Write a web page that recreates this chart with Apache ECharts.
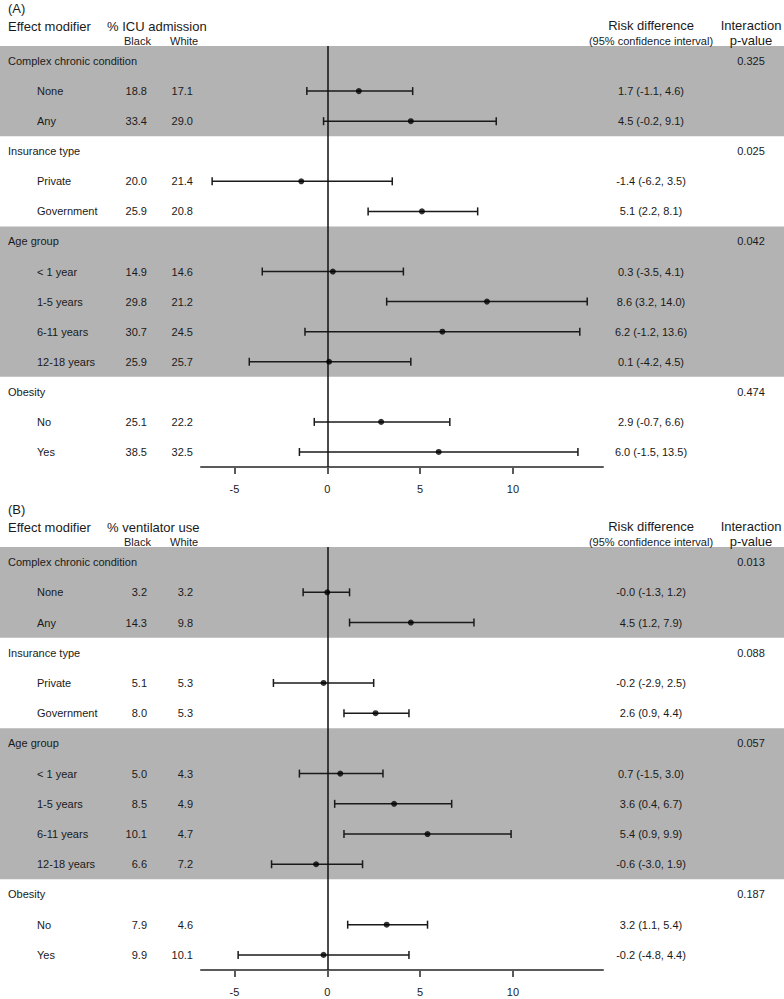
<!DOCTYPE html>
<html lang="en">
<head>
    <meta charset="UTF-8">
    <title>Effect modification forest plot</title>
    <script type="text/javascript" src="https://cdn.jsdelivr.net/npm/echarts@6/dist/echarts.min.js"></script>
    <style>
        html, body { margin: 0; padding: 0; background: #fff; }
    </style>
</head>
<body>
    <div id="main" style="width: 784px; height: 999px;"></div>

    <script type="text/javascript">
        // effect modifiers and their levels
        var groups = ['Complex chronic condition', 'Insurance type', 'Age group', 'Obesity'];
        var levels = ['None', 'Any', 'Private', 'Government', '< 1 year', '1-5 years', '6-11 years', '12-18 years', 'No', 'Yes'];
        var levelGroup = [0, 0, 1, 1, 2, 2, 2, 2, 3, 3];

        // (A) ICU admission
        var icuBlack = [18.8, 33.4, 20.0, 25.9, 14.9, 29.8, 30.7, 25.9, 25.1, 38.5];
        var icuWhite = [17.1, 29.0, 21.4, 20.8, 14.6, 21.2, 24.5, 25.7, 22.2, 32.5];
        var icuRd = [1.7, 4.5, -1.4, 5.1, 0.3, 8.6, 6.2, 0.1, 2.9, 6.0];
        var icuLo = [-1.1, -0.2, -6.2, 2.2, -3.5, 3.2, -1.2, -4.2, -0.7, -1.5];
        var icuHi = [4.6, 9.1, 3.5, 8.1, 4.1, 14.0, 13.6, 4.5, 6.6, 13.5];
        var icuP = ['0.325', '0.025', '0.042', '0.474'];

        // (B) ventilator use
        var ventBlack = [3.2, 14.3, 5.1, 8.0, 5.0, 8.5, 10.1, 6.6, 7.9, 9.9];
        var ventWhite = [3.2, 9.8, 5.3, 5.3, 4.3, 4.9, 4.7, 7.2, 4.6, 10.1];
        var ventRd = [-0.0, 4.5, -0.2, 2.6, 0.7, 3.6, 5.4, -0.6, 3.2, -0.2];
        var ventLo = [-1.3, 1.2, -2.9, 0.9, -1.5, 0.4, 0.9, -3.0, 1.1, -4.8];
        var ventHi = [1.2, 7.9, 2.5, 4.4, 3.0, 6.7, 9.9, 1.9, 5.4, 4.4];
        var ventP = ['0.013', '0.088', '0.057', '0.187'];

        var axisTicks = [-5, 0, 5, 10];

        var FONT = "'Liberation Sans', Arial, sans-serif";
        var INK = '#1a1a1a';
        var BAND = '#b3b3b3';
        var NROWS = groups.length + levels.length;

        function fmt(v) {
            var s = Math.abs(v).toFixed(1);
            return (v < 0 || Object.is(v, -0)) ? '-' + s : s;
        }

        // lay out rows: group header then its levels
        function buildRows(black, white, rd, lo, hi, p) {
            var out = { text: [], black: [], white: [], rd: [], p: [], bars: [], dots: [], groupRows: [] };
            var r = 0;
            groups.forEach(function (g, gi) {
                out.groupRows.push(r);
                out.text.push({ r: r, t: g, indent: false });
                out.p.push({ r: r, t: p[gi] });
                r++;
                levels.forEach(function (lv, li) {
                    if (levelGroup[li] !== gi) return;
                    out.text.push({ r: r, t: lv, indent: true });
                    out.black.push({ r: r, t: black[li].toFixed(1) });
                    out.white.push({ r: r, t: white[li].toFixed(1) });
                    out.rd.push({ r: r, t: fmt(rd[li]) + ' (' + fmt(lo[li]) + ', ' + fmt(hi[li]) + ')' });
                    out.bars.push([lo[li], hi[li], r]);
                    out.dots.push([rd[li], r]);
                    r++;
                });
            });
            return out;
        }

        var panels = [
            { rows: buildRows(icuBlack, icuWhite, icuRd, icuLo, icuHi, icuP), top: 46, height: 421, dy: 0, label: '(A)', outcome: '% ICU admission' },
            { rows: buildRows(ventBlack, ventWhite, ventRd, ventLo, ventHi, ventP), top: 547, height: 423, dy: 501, label: '(B)', outcome: '% ventilator use' }
        ];

        var grids = [], xAxes = [], yAxes = [], series = [], graphics = [];

        function textCol(axisIdx, items, colX, align, size) {
            return {
                type: 'custom',
                xAxisIndex: axisIdx,
                yAxisIndex: axisIdx,
                silent: true,
                z: 3,
                data: items.map(function (d) { return [colX, d.r]; }),
                renderItem: function (params, api) {
                    var pt = api.coord([api.value(0), api.value(1)]);
                    return {
                        type: 'text',
                        x: pt[0],
                        y: pt[1],
                        style: {
                            text: items[params.dataIndex].t,
                            fill: INK,
                            fontSize: size || 11,
                            fontFamily: FONT,
                            align: align,
                            verticalAlign: 'middle'
                        }
                    };
                }
            };
        }

        panels.forEach(function (pn, k) {
            var tIdx = k * 2, fIdx = k * 2 + 1;
            // table grid: full width, used for bands and text columns
            grids.push({ left: 0, width: 784, top: pn.top, height: pn.height });
            // forest grid
            grids.push({ left: 201, width: 402, top: pn.top, height: pn.height });

            xAxes.push({ gridIndex: tIdx, type: 'value', min: 0, max: 784, show: false });
            yAxes.push({ gridIndex: tIdx, type: 'value', min: -0.5, max: NROWS - 0.5, inverse: true, show: false });

            xAxes.push({
                gridIndex: fIdx, type: 'value', min: -6.8, max: 14.85,
                position: 'bottom',
                splitLine: { show: false },
                axisLine: { show: true, onZero: false, lineStyle: { color: '#5a5a5a', width: 2 } },
                axisTick: { show: true, customValues: axisTicks, length: 7, lineStyle: { color: '#5a5a5a', width: 2 } },
                axisLabel: { customValues: axisTicks, color: INK, fontSize: 11, fontFamily: FONT, margin: 16 }
            });
            yAxes.push({ gridIndex: fIdx, type: 'value', min: -0.5, max: NROWS - 0.5, inverse: true, show: false });

            var rows = pn.rows;
            var bandAreas = [];
            [0, 2].forEach(function (gi) {
                var start = rows.groupRows[gi];
                var end = gi + 1 < rows.groupRows.length ? rows.groupRows[gi + 1] : NROWS;
                bandAreas.push([{ yAxis: start - 0.5 }, { yAxis: end - 0.5 }]);
            });

            // group / level labels
            var grp = rows.text.filter(function (d) { return !d.indent; });
            var lev = rows.text.filter(function (d) { return d.indent; });
            var s0 = textCol(tIdx, grp, 8, 'left');
            s0.markArea = { silent: true, z: 0, itemStyle: { color: BAND, opacity: 1 }, data: bandAreas };
            s0.z = 1;
            series.push(s0);
            series.push(textCol(tIdx, lev, 37, 'left'));
            series.push(textCol(tIdx, rows.black, 147, 'right'));
            series.push(textCol(tIdx, rows.white, 193, 'right'));
            series.push(textCol(tIdx, rows.rd, 651, 'center'));
            series.push(textCol(tIdx, rows.p, 751, 'center'));

            // confidence interval bars
            series.push({
                type: 'custom',
                xAxisIndex: fIdx,
                yAxisIndex: fIdx,
                silent: true,
                z: 4,
                encode: { x: [0, 1], y: 2 },
                data: rows.bars,
                renderItem: function (params, api) {
                    var a = api.coord([api.value(0), api.value(2)]);
                    var b = api.coord([api.value(1), api.value(2)]);
                    var h = 4;
                    var st = { stroke: '#1a1a1a', lineWidth: 1.5 };
                    return {
                        type: 'group',
                        children: [
                            { type: 'line', shape: { x1: a[0], y1: a[1], x2: b[0], y2: b[1] }, style: st },
                            { type: 'line', shape: { x1: a[0], y1: a[1] - h, x2: a[0], y2: a[1] + h }, style: st },
                            { type: 'line', shape: { x1: b[0], y1: b[1] - h, x2: b[0], y2: b[1] + h }, style: st }
                        ]
                    };
                },
                markLine: {
                    silent: true,
                    symbol: 'none',
                    label: { show: false },
                    lineStyle: { color: '#111', width: 1.5, type: 'solid' },
                    data: [{ xAxis: 0 }]
                }
            });

            // point estimates
            series.push({
                type: 'scatter',
                xAxisIndex: fIdx,
                yAxisIndex: fIdx,
                silent: true,
                z: 5,
                symbol: 'circle',
                symbolSize: 6,
                itemStyle: { color: '#000' },
                data: rows.dots
            });

            // header texts
            var dy = pn.dy;
            var hdr = [
                [pn.label, 8, 8 + dy, 13, 'left'],
                ['Effect modifier', 8, 26 + dy, 13, 'left'],
                [pn.outcome, 107, 26 + dy, 13, 'left'],
                ['Black', 124, 41 + dy, 11, 'left'],
                ['White', 170, 41 + dy, 11, 'left'],
                ['Risk difference', 651, 25 + dy, 13, 'center'],
                ['(95% confidence interval)', 651, 41 + dy, 11, 'center'],
                ['Interaction', 751, 25 + dy, 13, 'center'],
                ['p-value', 751, 40 + dy, 13, 'center']
            ];
            hdr.forEach(function (h) {
                graphics.push({
                    type: 'text', x: h[1], y: h[2], silent: true, z: 100,
                    style: { text: h[0], fill: INK, fontSize: h[3], fontFamily: FONT, align: h[4], verticalAlign: 'middle' }
                });
            });
        });

        var myChart = echarts.init(document.getElementById('main'), null, { renderer: 'svg' });
        myChart.setOption({
            animation: false,
            backgroundColor: '#fff',
            grid: grids,
            xAxis: xAxes,
            yAxis: yAxes,
            series: series,
            graphic: graphics
        });
    </script>
</body>
</html>
